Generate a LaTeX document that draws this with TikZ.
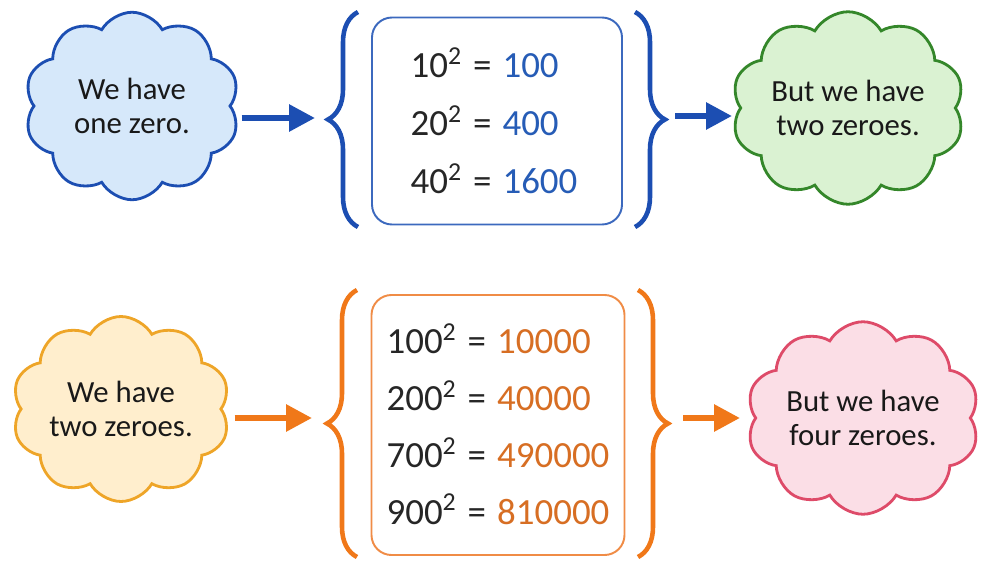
\documentclass[tikz,border=0pt]{standalone}
\usepackage{fontspec}
\setmainfont{Carlito}
\usetikzlibrary{positioning,shapes.symbols,arrows.meta,decorations.pathreplacing}

\definecolor{bluedark}{RGB}{28,78,178}
\definecolor{bluetext}{RGB}{38,92,182}
\definecolor{bluebox}{RGB}{60,105,190}
\definecolor{bluefill}{RGB}{214,232,250}
\definecolor{greenline}{RGB}{52,135,42}
\definecolor{greenfill}{RGB}{218,242,210}
\definecolor{yellowline}{RGB}{238,165,40}
\definecolor{yellowfill}{RGB}{255,238,205}
\definecolor{pinkline}{RGB}{222,75,105}
\definecolor{pinkfill}{RGB}{251,222,230}
\definecolor{orangeline}{RGB}{240,120,25}
\definecolor{orangetext}{RGB}{215,110,35}
\definecolor{orangebox}{RGB}{240,140,70}

\begin{document}
\begin{tikzpicture}[x=0.2mm,y=-0.2mm,
  thought/.style={cloud,cloud puffs=10,cloud puff arc=120,cloud ignores aspect,draw,line width=1.6pt,
    inner sep=0pt,align=center,font=\fontsize{17.5}{19}\selectfont,text=black!90},
  sqbox/.style={draw,rounded corners=0.4cm,line width=1.1pt,fill=white},
  sqlist/.style={align=left,font=\fontsize{21}{33}\selectfont,text=black!85},
  curly/.style={decorate,decoration={brace,amplitude=0.6cm},line width=2.6pt},
  pointer/.style={-{Triangle[length=0.52cm,width=0.52cm]},line width=3.4pt}]
\useasboundingbox (0,0) rectangle (981,571);

\node (one) at (132,106) [thought,fill=bluefill,draw=bluedark,minimum width=4.3cm,minimum height=3.75cm] {We have\\one zero.};
\node (two) at (848,108) [thought,fill=greenfill,draw=greenline,minimum width=4.66cm,minimum height=3.85cm] {But we have\\two zeroes.};
\node (three) at (121,409) [thought,fill=yellowfill,draw=yellowline,minimum width=4.36cm,minimum height=3.7cm] {We have\\two zeroes.};
\node (four) at (863,418) [thought,fill=pinkfill,draw=pinkline,minimum width=4.66cm,minimum height=3.85cm] {But we have\\four zeroes.};

\node (topbox) at (497,121) [sqbox,draw=bluebox,minimum width=5cm,minimum height=4.14cm] {};
\node (toplist) at (494,121) [sqlist] {10\textsuperscript{2}\hspace{0.3em}=\hspace{0.3em}\textcolor{bluetext}{100}\\
  20\textsuperscript{2}\hspace{0.3em}=\hspace{0.3em}\textcolor{bluetext}{400}\\
  40\textsuperscript{2}\hspace{0.3em}=\hspace{0.3em}\textcolor{bluetext}{1600}};
\node (lowbox) at (498,425) [sqbox,draw=orangebox,minimum width=5.06cm,minimum height=5.2cm] {};
\node (lowlist) at (498,424) [sqlist,font=\fontsize{21}{32.3}\selectfont] {100\textsuperscript{2}\hspace{0.3em}=\hspace{0.3em}\textcolor{orangetext}{10000}\\
  200\textsuperscript{2}\hspace{0.3em}=\hspace{0.3em}\textcolor{orangetext}{40000}\\
  700\textsuperscript{2}\hspace{0.3em}=\hspace{0.3em}\textcolor{orangetext}{490000}\\
  900\textsuperscript{2}\hspace{0.3em}=\hspace{0.3em}\textcolor{orangetext}{810000}};

\draw[curly,bluedark] (358,227) -- (358,12);
\draw[curly,bluedark] (635,12) -- (635,227);
\draw[curly,orangeline] (357,557) -- (357,290);
\draw[curly,orangeline] (638,290) -- (638,557);
\coordinate (tipA) at (328,118);
\coordinate (tipB) at (665,116);
\coordinate (tipC) at (327,418);
\coordinate (tipD) at (668,418);

\draw[pointer,bluedark,shorten <=0.2cm,shorten >=0.26cm] (one.east |- tipA) -- (tipA);
\draw[pointer,bluedark,shorten <=0.2cm,shorten >=0.14cm] (tipB) -- (two.west |- tipB);
\draw[pointer,orangeline,shorten <=0.24cm,shorten >=0.3cm] (three.east |- tipC) -- (tipC);
\draw[pointer,orangeline,shorten <=0.3cm,shorten >=0.28cm] (tipD) -- (four.west |- tipD);

\end{tikzpicture}
\end{document}
